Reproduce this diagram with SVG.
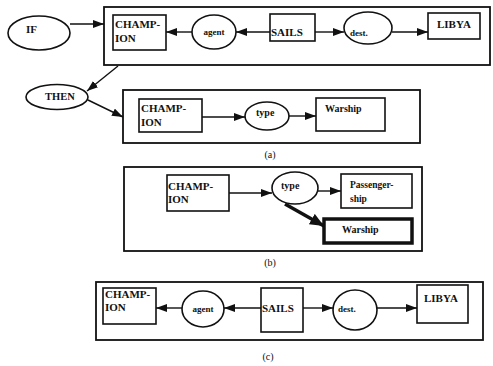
<svg xmlns="http://www.w3.org/2000/svg" width="493" height="366" viewBox="0 0 493 366">
<defs>
<style>
.box{fill:none;stroke:#111;stroke-width:1.6}
.frame{fill:none;stroke:#111;stroke-width:1.8}
.ell{fill:#fff;stroke:#111;stroke-width:1.6}
.edge{fill:none;stroke:#111;stroke-width:1.4;marker-end:url(#ah)}
text{font-family:"Liberation Serif","Times New Roman",serif;font-weight:bold;fill:#111;font-size:11px}
.s{font-size:9px}
.m{font-size:10px}
.lab{font-size:10px;font-weight:normal}
</style>
<marker id="ah" markerUnits="userSpaceOnUse" markerWidth="11" markerHeight="8" refX="11" refY="4" orient="auto">
<path d="M0,0 L11,4 L0,8 z" fill="#111"/>
</marker>
<marker id="ahb" markerUnits="userSpaceOnUse" markerWidth="14" markerHeight="12" refX="14" refY="6" orient="auto">
<path d="M0,0 L14,6 L0,12 z" fill="#111"/>
</marker>
</defs>
<rect width="493" height="366" fill="#fff"/>

<!-- frames -->
<g id="frame-a1"><rect class="frame" x="104" y="7" width="386" height="58"/></g>
<g id="frame-a2"><rect class="frame" x="123" y="90" width="297" height="53"/></g>
<g id="frame-b"><rect class="frame" x="124" y="167" width="298" height="84"/></g>
<g id="frame-c"><rect class="frame" x="96" y="282" width="387" height="58"/></g>

<!-- (a) top -->
<g id="if"><ellipse class="ell" cx="39" cy="33" rx="31" ry="17"/><text x="26" y="33">IF</text></g>
<g id="a-champion"><rect class="box" x="113" y="15" width="53" height="35"/><text x="115" y="28">CHAMP-</text><text x="115" y="42">ION</text></g>
<g id="a-agent"><ellipse class="ell" cx="214" cy="32" rx="22" ry="17"/><text class="s" x="214" y="35" text-anchor="middle">agent</text></g>
<g id="a-sails"><rect class="box" x="270" y="14" width="45" height="27"/><text x="271" y="36">SAILS</text></g>
<g id="a-dest"><ellipse class="ell" cx="368" cy="28" rx="24" ry="16"/><text class="s" x="350" y="36">dest.</text></g>
<g id="a-libya"><rect class="box" x="428" y="13" width="52" height="26"/><text x="437" y="28">LIBYA</text></g>

<g id="then"><ellipse class="ell" cx="57" cy="97" rx="31" ry="12.5"/><text x="45" y="100" style="font-size:10.5px">THEN</text></g>
<g id="a2-champion"><rect class="box" x="139" y="99" width="63" height="33"/><text x="141" y="112">CHAMP-</text><text x="141" y="126">ION</text></g>
<g id="a2-type"><ellipse class="ell" cx="267" cy="116" rx="22" ry="14"/><text class="m" x="256" y="116">type</text></g>
<g id="a2-warship"><rect class="box" x="316" y="98" width="69" height="33"/><text class="m" x="325" y="112">Warship</text></g>
<text class="lab" x="270" y="158" text-anchor="middle">(a)</text>

<!-- (b) -->
<g id="b-champion"><rect class="box" x="167" y="175" width="62" height="36"/><text x="168" y="190">CHAMP-</text><text x="168" y="203">ION</text></g>
<g id="b-type"><ellipse class="ell" cx="295" cy="188" rx="23" ry="16"/><text class="m" x="281" y="189">type</text></g>
<g id="b-passenger"><rect class="box" x="341" y="174" width="71" height="34"/><text x="350" y="188" style="font-size:9.5px">Passenger-</text><text x="350" y="202" style="font-size:9.5px">ship</text></g>
<g id="b-warship"><rect x="324" y="219" width="88" height="24" fill="none" stroke="#111" stroke-width="3.5"/><text class="m" x="342" y="233">Warship</text></g>
<text class="lab" x="270" y="266" text-anchor="middle">(b)</text>

<!-- (c) -->
<g id="c-champion"><rect class="box" x="103" y="288" width="53" height="36"/><text x="105" y="298">CHAMP-</text><text x="105" y="311">ION</text></g>
<g id="c-agent"><ellipse class="ell" cx="203" cy="309" rx="21" ry="18"/><text class="s" x="203" y="312" text-anchor="middle">agent</text></g>
<g id="c-sails"><rect class="box" x="261" y="288" width="42" height="44"/><text x="262" y="312">SAILS</text></g>
<g id="c-dest"><ellipse class="ell" cx="355" cy="310" rx="22" ry="20"/><text class="s" x="338" y="312">dest.</text></g>
<g id="c-libya"><rect class="box" x="417" y="285" width="51" height="38"/><text x="424" y="302">LIBYA</text></g>
<text class="lab" x="268" y="360" text-anchor="middle">(c)</text>

<!-- connectors -->
<g id="connectors">
<line class="edge" x1="70" y1="24" x2="104" y2="24"/>
<line class="edge" x1="192" y1="32" x2="166" y2="32"/>
<line class="edge" x1="270" y1="32" x2="236" y2="32"/>
<line class="edge" x1="315" y1="32" x2="344" y2="32"/>
<line class="edge" x1="392" y1="32" x2="428" y2="32"/>
<line class="edge" x1="118" y1="66" x2="87" y2="91"/>
<line class="edge" x1="88" y1="100" x2="123" y2="117"/>
<line class="edge" x1="202" y1="117" x2="245" y2="117"/>
<line class="edge" x1="289" y1="116" x2="316" y2="116"/>
<line class="edge" x1="229" y1="193" x2="272" y2="193"/>
<line class="edge" x1="318" y1="191" x2="341" y2="191"/>
<line x1="285" y1="204" x2="324" y2="226" stroke="#111" stroke-width="3.5" marker-end="url(#ahb)"/>
<line class="edge" x1="182" y1="308" x2="156" y2="308"/>
<line class="edge" x1="261" y1="308" x2="224" y2="308"/>
<line class="edge" x1="303" y1="308" x2="333" y2="308"/>
<line class="edge" x1="377" y1="308" x2="417" y2="308"/>
</g>
</svg>
